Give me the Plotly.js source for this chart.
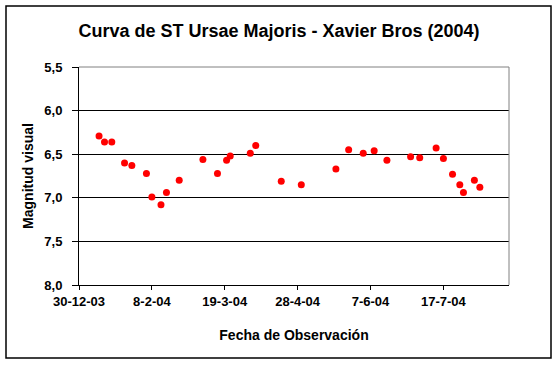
<!DOCTYPE html>
<html>
<head>
<meta charset="utf-8">
<script src="https://cdn.plot.ly/plotly-3.0.1.min.js"></script>
<style>html,body{margin:0;padding:0;background:#fff;}#chart{width:558px;height:366px;}</style>
</head>
<body>
<div id="chart"></div>
<script>
const fechas = [
  '2004-01-10','2004-01-13','2004-01-17','2004-01-24','2004-01-28','2004-02-05',
  '2004-02-08','2004-02-13','2004-02-16','2004-02-23','2004-03-07','2004-03-15',
  '2004-03-20','2004-03-22','2004-04-02','2004-04-05','2004-04-19','2004-04-30',
  '2004-05-19','2004-05-26','2004-06-03','2004-06-09','2004-06-16','2004-06-29',
  '2004-07-04','2004-07-13','2004-07-17','2004-07-22','2004-07-26','2004-07-28',
  '2004-08-03','2004-08-06'
];
const magnitudes = [
  6.29, 6.36, 6.36, 6.60, 6.63, 6.72,
  6.99, 7.08, 6.94, 6.80, 6.56, 6.72,
  6.57, 6.52, 6.49, 6.40, 6.81, 6.85,
  6.67, 6.45, 6.49, 6.46, 6.57, 6.53,
  6.54, 6.43, 6.55, 6.73, 6.85, 6.94,
  6.80, 6.88
];
const xTickVals = ['2003-12-30','2004-02-08','2004-03-19','2004-04-28','2004-06-07','2004-07-17'];
const xTickText = ['30-12-03','8-2-04','19-3-04','28-4-04','7-6-04','17-7-04'];
const yTickVals = [5.5, 6.0, 6.5, 7.0, 7.5, 8.0];

const font = 'Liberation Sans, Arial, sans-serif';

const trace = {
  x: fechas, y: magnitudes, type: 'scatter', mode: 'markers',
  marker: {color: '#ff0000', size: 7, symbol: 'circle'},
  hoverinfo: 'x+y', showlegend: false
};

const layout = {
  width: 558, height: 366,
  margin: {l: 79, r: 49, t: 67, b: 81, pad: 0},
  paper_bgcolor: '#ffffff', plot_bgcolor: '#ffffff',
  separators: ',.',
  font: {family: font, color: '#000', size: 12},
  title: {
    text: '<b>Curva de ST Ursae Majoris - Xavier Bros (2004)</b>',
    font: {family: font, size: 18, color: '#000'},
    xref: 'container', x: 0.5, xanchor: 'center',
    yref: 'container', y: 1 - 31/366, yanchor: 'middle'
  },
  xaxis: {
    type: 'date',
    range: ['2003-12-30', '2004-08-22'],
    tickmode: 'array', tickvals: xTickVals, ticktext: xTickText,
    ticks: 'outside', ticklen: 4, tickcolor: '#000', tickwidth: 1,
    tickfont: {family: font, size: 13, color: '#000', weight: 'bold'},
    showgrid: false, zeroline: false,
    showline: true, linecolor: '#000', linewidth: 1,
    title: {text: '<b>Fecha de Observación</b>', font: {family: font, size: 14, color: '#000'}, standoff: 22},
    automargin: false, fixedrange: true
  },
  yaxis: {
    range: [8.0, 5.5],
    tickmode: 'array', tickvals: yTickVals, tickformat: '.1f',
    ticks: 'outside', ticklen: 6, tickcolor: '#000', tickwidth: 1,
    ticklabelstandoff: 7,
    tickfont: {family: font, size: 13, color: '#000', weight: 'bold'},
    showgrid: true, gridcolor: '#000', gridwidth: 1,
    zeroline: false,
    showline: true, linecolor: '#000', linewidth: 1,
    title: {text: '<b>Magnitud visual</b>', font: {family: font, size: 14, color: '#000'}, standoff: 7},
    automargin: false, fixedrange: true
  },
  shapes: [
    {type: 'line', xref: 'paper', yref: 'paper', x0: 0, x1: 1, y0: 1, y1: 1, line: {color: '#808080', width: 1}, layer: 'above'},
    {type: 'line', xref: 'paper', yref: 'paper', x0: 1, x1: 1, y0: 0, y1: 1, line: {color: '#808080', width: 1}, layer: 'above'},
    {type: 'rect', xref: 'paper', yref: 'paper',
     x0: (6 - 79) / 430, x1: (551 - 79) / 430,
     y0: (285 - 358) / 218, y1: (285 - 6) / 218,
     line: {color: '#000', width: 1.5}, fillcolor: 'rgba(0,0,0,0)', layer: 'above'}
  ]
};

Plotly.newPlot('chart', [trace], layout, {displayModeBar: false, staticPlot: true});
</script>
</body>
</html>
